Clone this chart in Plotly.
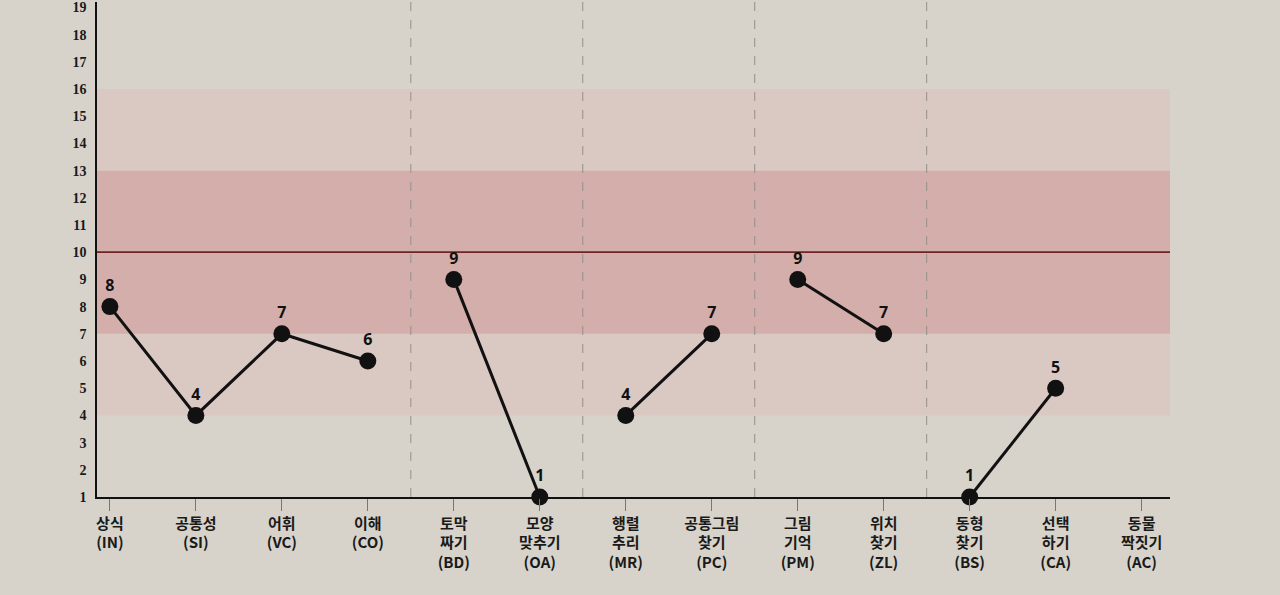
import plotly.graph_objects as go

categories = ["상식<br>(IN)", "공통성<br>(SI)", "어휘<br>(VC)", "이해<br>(CO)",
              "토막<br>짜기<br>(BD)", "모양<br>맞추기<br>(OA)", "행렬<br>추리<br>(MR)",
              "공통그림<br>찾기<br>(PC)", "그림<br>기억<br>(PM)", "위치<br>찾기<br>(ZL)",
              "동형<br>찾기<br>(BS)", "선택<br>하기<br>(CA)", "동물<br>짝짓기<br>(AC)"]
scores = [8, 4, 7, 6, 9, 1, 4, 7, 9, 7, 1, 5, None]
groups = [1, 1, 1, 1, 2, 2, 3, 3, 4, 4, 5, 5, 6]
y_ticks = list(range(1, 20))
outer_band = (4, 16)
inner_band = (7, 13)
mean_line = 10
separators = [3.5, 5.5, 7.5, 9.5]

xs = list(range(len(categories)))
y_lo, y_hi = 1, 19.2

fig = go.Figure()

for g in sorted(set(groups)):
    gx = [x for x, gg in zip(xs, groups) if gg == g]
    gy = [scores[x] for x in gx]
    if all(v is None for v in gy):
        continue
    fig.add_trace(go.Scatter(
        x=gx, y=gy, mode="lines+markers+text",
        text=[str(v) for v in gy], textposition="top center",
        textfont=dict(family="Noto Sans", size=16, color="#111", weight="bold"),
        line=dict(color="#111", width=3),
        marker=dict(color="#111", size=17),
        showlegend=False, cliponaxis=False,
    ))

x0, x1 = -0.15, 12.33
fig.add_shape(type="rect", xref="x", yref="y", x0=x0, x1=x1,
              y0=outer_band[0], y1=outer_band[1],
              fillcolor="#dac8c3", line_width=0, layer="below")
fig.add_shape(type="rect", xref="x", yref="y", x0=x0, x1=x1,
              y0=inner_band[0], y1=inner_band[1],
              fillcolor="#d4aeab", line_width=0, layer="below")
fig.add_shape(type="line", xref="x", yref="y", x0=x0, x1=x1,
              y0=mean_line, y1=mean_line,
              line=dict(color="#6e2424", width=1.8), layer="below")
for s in separators:
    fig.add_shape(type="line", xref="x", yref="y", x0=s, x1=s, y0=y_lo, y1=y_hi,
                  line=dict(color="#958f89", width=1, dash="dash"), layer="below")

fig.update_layout(
    width=1280, height=595,
    paper_bgcolor="#d7d3cb", plot_bgcolor="#d7d3cb",
    margin=dict(l=97, r=110, t=0, b=98),
)
fig.update_xaxes(
    range=[x0, x1], tickvals=xs, ticktext=categories,
    showgrid=False, zeroline=False,
    showline=True, linecolor="#111", linewidth=1.5,
    ticks="outside", ticklen=12, tickcolor="#777", tickwidth=1,
    tickfont=dict(family="Noto Sans CJK KR", size=15, color="#1a1a1a", weight="bold"),
)
fig.update_yaxes(
    range=[y_lo, y_hi], tickvals=y_ticks, ticktext=[str(v) for v in y_ticks],
    showgrid=False, zeroline=False,
    showline=True, linecolor="#111", linewidth=1.5,
    ticks="", ticklabelstandoff=6, ticklabeloverflow="allow",
    tickfont=dict(family="Liberation Serif", size=14, color="#1a1a1a", weight="bold"),
)

fig.write_html("out.html", config={"displayModeBar": False},
               post_script="document.body.style.margin='0px';")
